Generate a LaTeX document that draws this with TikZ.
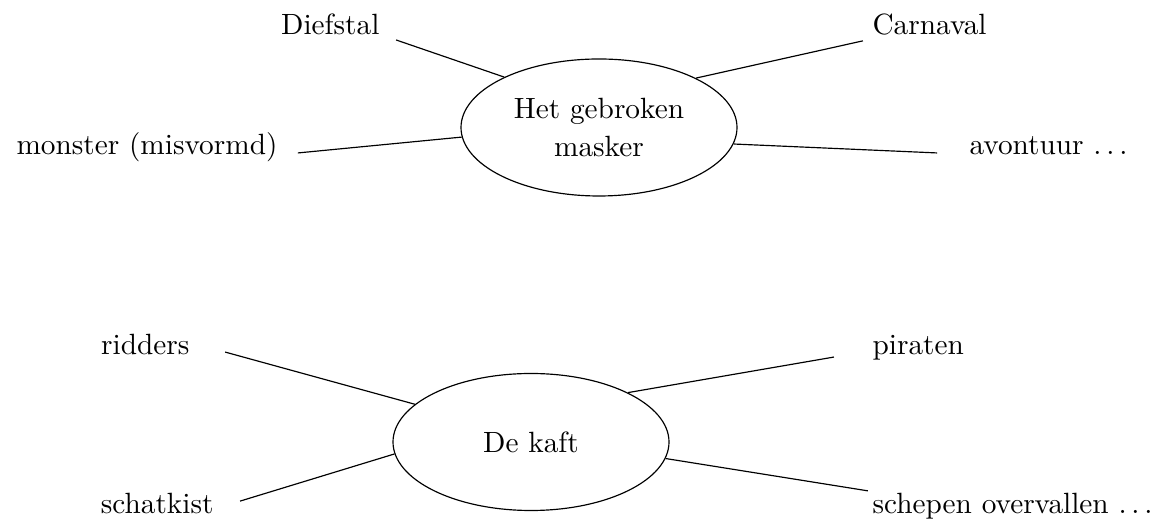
\documentclass[tikz,border=0pt]{standalone}
\usepackage{tikz}
\usetikzlibrary{shapes.geometric}

\begin{document}
\begin{tikzpicture}[
	topic/.style={draw, ellipse, align=center, inner sep=0pt, minimum width=3.312cm, minimum height=1.644cm},
	word/.style={inner sep=0pt, text depth=0pt}
	]
	\useasboundingbox (0,0) rectangle (13.884,6.252);
	% Centres
	\node[topic] (masker) at (7.188,4.722) {Het gebroken\\[1.3pt]masker};
	\node[topic] (kaft) at (6.372,0.948) {De kaft};
	% Words round the first centre
	\node[word, anchor=south east] (dief) at (4.56,5.832) {Diefstal};
	\node[word, anchor=south west] (carn) at (10.464,5.832) {Carnaval};
	\node[word, anchor=south east] (monst) at (3.336,4.392) {monster (misvormd)};
	\node[word, anchor=south west] (avont) at (11.628,4.392) {avontuur $\ldots$};
	% Words round the second centre
	\node[word, anchor=south east] (ridd) at (2.28,1.992) {ridders};
	\node[word, anchor=south west] (pir) at (10.464,1.992) {piraten};
	\node[word, anchor=south east] (schat) at (2.568,0.084) {schatkist};
	\node[word, anchor=south west] (schep) at (10.464,0.084) {schepen overvallen $\ldots$};
	% Connectors
	\draw ([xshift=5.5pt,yshift=-1.7pt]dief.south east) -- (masker.152.5);
	\draw ([xshift=-3.1pt,yshift=-2pt]carn.south west) -- (masker.27.5);
	\draw ([xshift=6.8pt,yshift=0.7pt]monst.south east) -- (masker.184.3);
	\draw ([xshift=-10.9pt,yshift=0.7pt]avont.south west) -- (masker.353.5);
	\draw ([xshift=12pt,yshift=1pt]ridd.south east) -- (kaft.162);
	\draw ([xshift=-13pt,yshift=-0.7pt]pir.south west) -- (kaft.27);
	\draw ([xshift=8.9pt,yshift=4.4pt]schat.south east) -- (kaft.185);
	\draw ([xshift=-1.4pt,yshift=7.9pt]schep.south west) -- (kaft.353);
\end{tikzpicture}
\end{document}
